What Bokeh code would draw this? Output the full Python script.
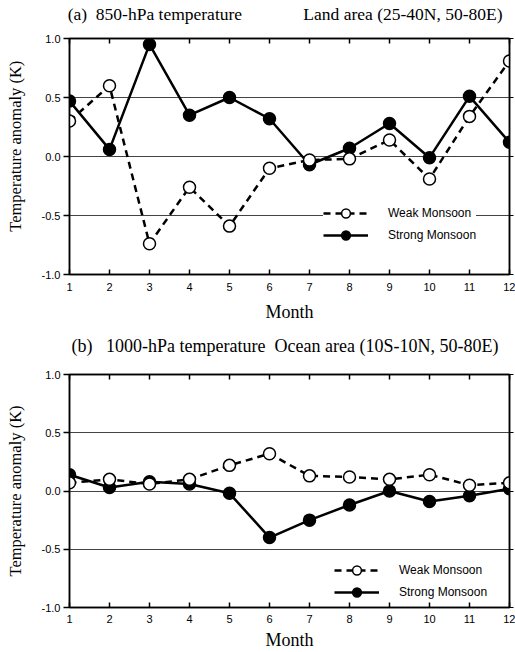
from bokeh.plotting import figure
from bokeh.models import (Range1d, FixedTicker, LinearAxis, Legend,
                          LegendItem, NumeralTickFormatter, CustomJSTickFormatter)
from bokeh.layouts import column
from bokeh.embed import file_html
from bokeh.resources import INLINE

months = list(range(1, 13))

# (a) 850-hPa temperature, land area
weak_850 = [0.30, 0.60, -0.74, -0.26, -0.59, -0.10, -0.03, -0.02, 0.14, -0.19, 0.34, 0.81]
strong_850 = [0.47, 0.06, 0.95, 0.35, 0.50, 0.32, -0.07, 0.07, 0.28, -0.01, 0.51, 0.12]

# (b) 1000-hPa temperature, ocean area
weak_1000 = [0.07, 0.10, 0.06, 0.10, 0.22, 0.32, 0.13, 0.12, 0.10, 0.14, 0.05, 0.07]
strong_1000 = [0.14, 0.03, 0.08, 0.06, -0.02, -0.40, -0.25, -0.12, 0.00, -0.09, -0.04, 0.02]

y_ticks = [-1.0, -0.5, 0.0, 0.5, 1.0]
grid_ticks = [-0.5, 0.0, 0.5]
series_labels = ["Weak Monsoon", "Strong Monsoon"]

SERIF = "Liberation Serif"
SANS = "Liberation Sans"
NB = "\u00a0"


def make_panel(weak, strong, title, title_size, title_standoff, top_b, frame_h, bot_b,
               ylab, tick_standoff, xlab_standoff, leg_x, leg_vy, leg_bg):
    p = figure(width=515, height=top_b + frame_h + bot_b,
               min_border_left=69, min_border_right=6,
               min_border_top=top_b, min_border_bottom=bot_b,
               x_range=Range1d(1, 12), y_range=Range1d(-1, 1),
               output_backend="svg", toolbar_location=None)
    p.background_fill_color = "white"
    p.border_fill_color = "white"
    p.outline_line_color = "black"
    p.outline_line_width = 1.5

    # bottom axis
    xa = p.xaxis[0]
    xa.ticker = FixedTicker(ticks=months)
    xa.major_tick_in = 5
    xa.major_tick_out = 0
    xa.minor_tick_line_color = None
    xa.axis_line_width = 1.5
    xa.major_tick_line_width = 1.5
    xa.major_label_text_font = SANS
    xa.major_label_text_font_size = "11px"
    xa.major_label_text_color = "black"
    xa.major_label_standoff = tick_standoff
    xa.axis_label = "Month"
    xa.axis_label_text_font = SERIF
    xa.axis_label_text_font_size = "18px"
    xa.axis_label_text_font_style = "normal"
    xa.axis_label_text_color = "black"
    xa.axis_label_standoff = xlab_standoff

    # left axis
    ya = p.yaxis[0]
    ya.ticker = FixedTicker(ticks=y_ticks)
    ya.formatter = NumeralTickFormatter(format="0.0")
    ya.major_tick_in = 0
    ya.major_tick_out = 6
    ya.minor_tick_line_color = None
    ya.axis_line_width = 1.5
    ya.major_tick_line_width = 1.5
    ya.major_label_text_font = SANS
    ya.major_label_text_font_size = "11px"
    ya.major_label_text_color = "black"
    ya.major_label_standoff = 3
    ya.axis_label = ylab
    ya.axis_label_text_font = SERIF
    ya.axis_label_text_font_size = "16.5px"
    ya.axis_label_text_font_style = "normal"
    ya.axis_label_text_color = "black"
    ya.axis_label_standoff = 14

    blank = CustomJSTickFormatter(code="return ''")
    # top axis: ticks only, its label carries the panel title
    top = LinearAxis(ticker=FixedTicker(ticks=months), formatter=blank,
                     major_tick_in=5, major_tick_out=0, major_label_standoff=0,
                     minor_tick_line_color=None, axis_line_width=1.5,
                     major_tick_line_width=1.5,
                     axis_label=title, axis_label_standoff=title_standoff,
                     axis_label_text_font=SERIF, axis_label_text_font_size=title_size,
                     axis_label_text_font_style="normal", axis_label_text_color="black")
    p.add_layout(top, "above")
    # right axis (ticks only)
    right = LinearAxis(ticker=FixedTicker(ticks=y_ticks), formatter=blank,
                       major_tick_in=0, major_tick_out=4, major_label_standoff=0,
                       minor_tick_line_color=None, axis_line_width=1.5,
                       major_tick_line_width=1.0)
    p.add_layout(right, "right")

    p.xgrid.visible = False
    p.ygrid.ticker = FixedTicker(ticks=grid_ticks)
    p.ygrid.grid_line_color = "#222222"
    p.ygrid.grid_line_alpha = 0.85
    p.ygrid.grid_line_width = 1

    rs = p.line(months, strong, line_color="black", line_width=2.5)
    cs = p.scatter(months, strong, marker="circle", size=12,
                   fill_color="black", line_color="black", line_width=1.5)
    rw = p.line(months, weak, line_color="black", line_width=2.5, line_dash="7 5")
    cw = p.scatter(months, weak, marker="circle", size=12,
                   fill_color="white", line_color="black", line_width=1.5)

    legend = Legend(items=[LegendItem(label=series_labels[0], renderers=[rw, cw]),
                           LegendItem(label=series_labels[1], renderers=[rs, cs])],
                    location=(leg_x, leg_vy), orientation="vertical",
                    border_line_color=None,
                    background_fill_color=leg_bg if leg_bg else "white",
                    background_fill_alpha=1.0 if leg_bg else 0.0,
                    label_text_font=SANS, label_text_font_size="12px",
                    label_text_color="black",
                    glyph_width=45, glyph_height=22, label_height=20,
                    label_standoff=20, spacing=0, padding=5, margin=0)
    p.add_layout(legend)
    return p


title_a = "(a)" + NB * 2 + "850-hPa temperature" + NB * 14 + "Land area (25-40N, 50-80E)" + NB * 2
title_b = "(b)" + NB * 3 + "1000-hPa temperature" + NB * 2 + "Ocean area (10S-10N, 50-80E)" + NB * 2

p1 = make_panel(weak_850, strong_850, title_a, "17.5px", 15, 38, 236, 54,
                NB * 5 + "Temperature anomaly (K)", 8, 8, 254, 28, "white")
p2 = make_panel(weak_1000, strong_1000, title_b, "18px", 19, 46, 233, 45,
                "Temperature anomaly (K)", 7, 4, 265, 4, None)

layout = column(p1, p2, spacing=0)
open("out.html", "w").write(file_html(layout, INLINE))
